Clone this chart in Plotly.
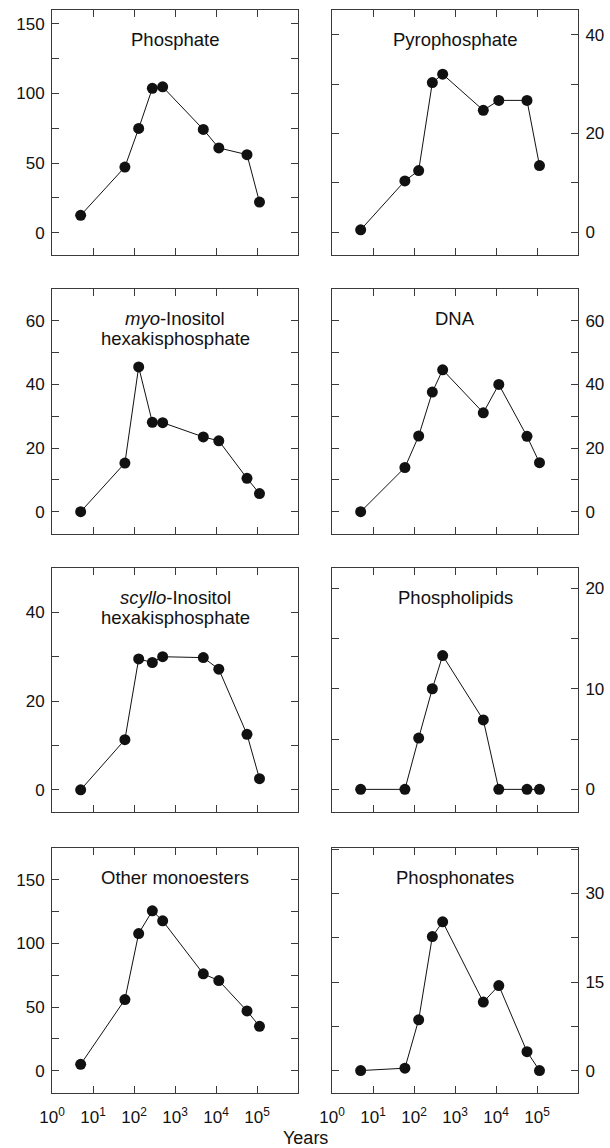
import plotly.graph_objects as go

# ---------------- data ----------------
years = [5, 60, 130, 280, 500, 4900, 11700, 57000, 115000]

phosphate = [12.5, 47.2, 74.9, 103.7, 104.8, 74.2, 60.9, 56.1, 22.0]
pyrophosphate = [0.5, 10.4, 12.5, 30.3, 32.0, 24.7, 26.7, 26.7, 13.5]
myo_ip6 = [0, 15.3, 45.5, 28.1, 28.0, 23.5, 22.3, 10.5, 5.7]
dna = [0, 13.9, 23.8, 37.6, 44.6, 31.1, 40.0, 23.7, 15.4]
scyllo_ip6 = [0, 11.3, 29.5, 28.7, 30.0, 29.8, 27.2, 12.5, 2.5]
phospholipids = [0, 0, 5.1, 10.0, 13.3, 6.9, 0, 0, 0]
other_monoesters = [5.0, 55.9, 107.8, 125.6, 117.8, 76.1, 70.8, 47.0, 34.9]
phosphonates = [0, 0.4, 8.6, 22.7, 25.2, 11.6, 14.4, 3.2, 0]

x_tickvals = [1, 10, 100, 1000, 10000, 100000]
x_ticktext = ["10<sup>0</sup>", "10<sup>1</sup>", "10<sup>2</sup>",
              "10<sup>3</sup>", "10<sup>4</sup>", "10<sup>5</sup>"]

panels = [
    # (title lines, values, y range, minor tick step, label step)
    (["Phosphate"], phosphate, [-16, 160], 25, 50),
    (["Pyrophosphate"], pyrophosphate, [-4.6, 45], 10, 20),
    (["<i>myo</i>-Inositol", "hexakisphosphate"], myo_ip6, [-7, 70], 10, 20),
    (["DNA"], dna, [-7, 70], 10, 20),
    (["<i>scyllo</i>-Inositol", "hexakisphosphate"], scyllo_ip6, [-5, 50], 10, 20),
    (["Phospholipids"], phospholipids, [-2.25, 22], 5, 10),
    (["Other monoesters"], other_monoesters, [-17.5, 175], 25, 50),
    (["Phosphonates"], phosphonates, [-3.8, 37.7], 7.5, 15),
]

# ---------------- layout geometry (pixels) ----------------
W, H = 610, 1148
col_x = [(52, 298), (332, 578)]
row_y = [(10, 255), (289, 534), (568, 812), (848, 1093)]
FONT = "Liberation Sans, Arial, Helvetica, sans-serif"
AXC = "#3a3a3a"
TICKFONT = dict(family=FONT, size=17, color="#111")

fig = go.Figure()
annotations = []
layout = {}

for i, (title, vals, yr, step, lstep) in enumerate(panels):
    r, c = divmod(i, 2)
    n = i + 1
    xa = "x" if n == 1 else f"x{n}"
    ya = "y" if n == 1 else f"y{n}"
    fig.add_trace(go.Scatter(
        x=years, y=vals, xaxis=xa, yaxis=ya, mode="lines+markers",
        line=dict(color="#111111", width=1),
        marker=dict(color="#111111", size=11),
        showlegend=False, cliponaxis=False,
    ))
    x0, x1 = col_x[c]
    y0, y1 = row_y[r]
    layout["xaxis" if n == 1 else f"xaxis{n}"] = dict(
        type="log", range=[0, 6], domain=[x0 / W, x1 / W],
        anchor=ya, tickmode="array", tickvals=x_tickvals, ticktext=x_ticktext,
        showticklabels=(r == 3), ticks="inside", ticklen=7, tickwidth=1,
        tickcolor=AXC, showline=True, linecolor=AXC, linewidth=1,
        mirror="ticks", showgrid=False, zeroline=False, automargin=False,
        ticklabelstandoff=9, tickfont=TICKFONT,
    )
    layout["yaxis" if n == 1 else f"yaxis{n}"] = dict(
        range=yr, domain=[1 - y1 / H, 1 - y0 / H], anchor=xa,
        side="left" if c == 0 else "right",
        tickmode="linear", tick0=0, dtick=lstep,
        minor=dict(tick0=0, dtick=step, ticks="inside", ticklen=7,
                   tickwidth=1, tickcolor=AXC, showgrid=False),
        ticks="inside", ticklen=7, tickwidth=1,
        tickcolor=AXC, showline=True, linecolor=AXC, linewidth=1,
        mirror="ticks", showgrid=False, zeroline=False, automargin=False,
        ticklabelstandoff=3, tickfont=TICKFONT,
    )
    for j, line in enumerate(title):
        cy = y0 + 29 + 20 * j
        annotations.append(dict(
            text=line, xref="paper", yref="paper",
            x=(x0 + x1) / 2 / W, y=1 - cy / H,
            xanchor="center", yanchor="middle", showarrow=False,
            font=dict(family=FONT, size=18.5, color="#111"),
        ))

annotations.append(dict(
    text="Years", xref="paper", yref="paper", x=305 / W, y=1 - 1138 / H,
    xanchor="center", yanchor="middle", showarrow=False,
    font=dict(family=FONT, size=18, color="#111"),
))

fig.update_layout(
    width=W, height=H, margin=dict(l=0, r=0, t=0, b=0),
    paper_bgcolor="white", plot_bgcolor="white",
    annotations=annotations, **layout,
)

fig.write_html("out.html")
